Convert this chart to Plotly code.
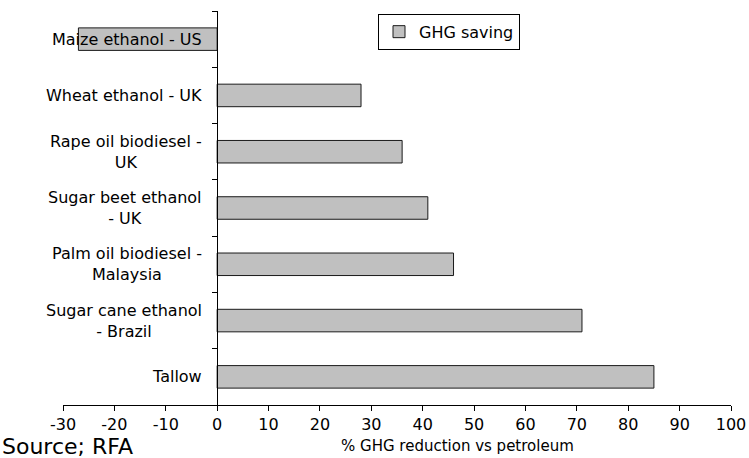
import plotly.graph_objects as go

categories = ["Maize ethanol - US", "Wheat ethanol - UK", "Rape oil biodiesel - UK",
              "Sugar beet ethanol - UK", "Palm oil biodiesel - Malaysia",
              "Sugar cane ethanol - Brazil", "Tallow"]
label_text = ["Maize ethanol - US", "Wheat ethanol - UK", "Rape oil biodiesel -<br>UK",
              "Sugar beet ethanol<br>- UK", "Palm oil biodiesel -<br>Malaysia",
              "Sugar cane ethanol<br>- Brazil", "Tallow"]
ghg_saving = [-27, 28, 36, 41, 46, 71, 85]
x_tick_values = [-30, -20, -10, 0, 10, 20, 30, 40, 50, 60, 70, 80, 90, 100]
series_name = "GHG saving"
x_title = "% GHG reduction vs petroleum"
source_text = "Source; RFA"

FONT = "DejaVu Sans"
W, H = 749, 458
ml, mr, mt, mb = 63, 18, 11, 53
xmin, xmax = -30, 100

fig = go.Figure()
fig.add_trace(go.Bar(
    y=categories, x=ghg_saving, orientation="h", name=series_name,
    marker=dict(color="#C0C0C0", line=dict(color="#1a1a1a", width=1)),
    width=0.4, showlegend=True,
))

annotations = []
for cat, txt in zip(categories, label_text):
    annotations.append(dict(
        x=(0 - xmin) / (xmax - xmin), xref="paper", y=cat, yref="y",
        text=txt, showarrow=False, xanchor="right", yanchor="middle",
        xshift=-13, align="center",
        font=dict(family=FONT, size=16, color="#000000"),
    ))
annotations.append(dict(
    x=0, xref="paper", y=0, yref="paper", text=source_text, showarrow=False,
    xanchor="left", yanchor="middle", xshift=-ml, yshift=-41,
    font=dict(family=FONT, size=22, color="#000000"),
))
annotations.append(dict(
    x=0.5, xref="paper", y=0, yref="paper", text=x_title, showarrow=False,
    xanchor="center", yanchor="middle", xshift=60, yshift=-41,
    font=dict(family=FONT, size=15, color="#000000"),
))

fig.update_layout(
    template="none",
    width=W, height=H,
    margin=dict(l=ml, r=mr, t=mt, b=mb, pad=0, autoexpand=False),
    paper_bgcolor="white", plot_bgcolor="white",
    font=dict(family=FONT, size=14, color="#000000"),
    bargap=0.6,
    xaxis=dict(
        range=[xmin, xmax],
        tickmode="array", tickvals=x_tick_values,
        ticktext=[str(v) for v in x_tick_values],
        showline=True, linecolor="#000000", linewidth=1,
        ticks="outside", ticklen=5, tickcolor="#000000", tickwidth=1,
        showgrid=False, zeroline=False, automargin=False,
        tickfont=dict(family=FONT, size=16, color="#000000"),
        domain=[0, 1],
    ),
    yaxis=dict(
        type="category", categoryorder="array", categoryarray=categories,
        range=[len(categories) - 0.5, -0.5],
        anchor="free", position=(0 - xmin) / (xmax - xmin),
        showline=True, linecolor="#000000", linewidth=1,
        ticks="outside", ticklen=5, tickcolor="#000000", tickwidth=1,
        tickson="boundaries", automargin=False,
        showticklabels=False, showgrid=False, zeroline=False,
    ),
    legend=dict(
        x=(378 - ml) / (W - ml - mr), y=0.993,
        xanchor="left", yanchor="top",
        bordercolor="#000000", borderwidth=1, bgcolor="white",
        font=dict(family=FONT, size=16, color="#000000"),
        itemwidth=30, tracegroupgap=0,
    ),
    annotations=annotations,
)

fig.write_html("out.html", config={"displayModeBar": False},
               post_script="document.body.style.margin='0';document.body.style.padding='0';")
